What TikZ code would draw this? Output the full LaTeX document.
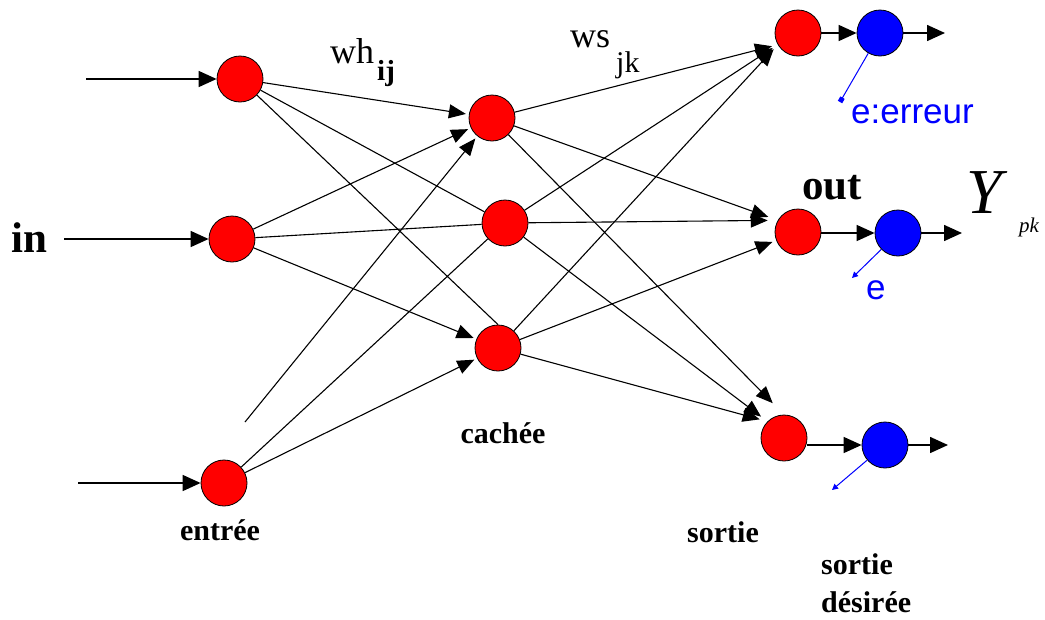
\documentclass[tikz,border=0pt]{standalone}
\usepackage{fontspec}
\setmainfont{Liberation Serif}
\newfontfamily\arialfont{Liberation Sans}
\usetikzlibrary{arrows.meta}
\begin{document}
\begin{tikzpicture}[x=1pt,y=-1pt,
  neuron/.style={circle,draw=black,line width=0.8pt,minimum size=46pt,inner sep=0pt},
  rn/.style={neuron,fill=red},
  bn/.style={neuron,fill=blue},
  link/.style={line width=1.1pt},
  arr/.style={link,-{Triangle[length=17pt,width=14pt]}},
  io/.style={line width=1.6pt,-{Triangle[length=18pt,width=16pt]}},
  err/.style={draw=blue,line width=1pt},
  txt/.style={inner sep=0pt},
  lab/.style={txt,font=\fontsize{30}{34}\selectfont\bfseries},
  big/.style={txt,font=\fontsize{43}{50}\selectfont\bfseries},
  wt/.style={txt,font=\fontsize{36}{40}\selectfont},
  wsub/.style={txt,font=\fontsize{30}{34}\selectfont},
  wsubb/.style={txt,font=\fontsize{29}{34}\selectfont\bfseries},
  bluetxt/.style={txt,text=blue,font=\arialfont\fontsize{35}{40}\selectfont},
]
\useasboundingbox (0,0) rectangle (1045,619);

% neurons
\node[rn] (I1) at (240,79) {};
\node[rn] (I2) at (232,239) {};
\node[rn] (I3) at (224,483) {};
\node[rn] (H1) at (492,118) {};
\node[rn] (H2) at (505,223) {};
\node[rn] (H3) at (498,348) {};
\node[rn] (O1) at (798,33) {};
\node[rn] (O2) at (798,232) {};
\node[rn] (O3) at (784,438) {};
\node[bn] (B1) at (880,33) {};
\node[bn] (B2) at (898,233) {};
\node[bn] (B3) at (885,445) {};

% free ends
\coordinate (in1) at (86,79);
\coordinate (in2) at (64,239);
\coordinate (in3) at (78,483);
\coordinate (out1) at (945,33);
\coordinate (out2) at (962,233);
\coordinate (out3) at (948,445);
\coordinate (s) at (245,422);
\coordinate (e1) at (840,102);
\coordinate (e2) at (852,278);
\coordinate (e3) at (832,490);

% inputs and outputs
\draw[io] (in1) -- (I1);
\draw[io] (in2) -- (I2);
\draw[io] (in3) -- (I3);
\draw[io] (O1) -- (B1);
\draw[io] (O2.east |- B2.west) -- (B2.west);
\draw[io] (O3.east |- B3.west) -- (B3.west);
\draw[io] (B1) -- (out1);
\draw[io] (B2) -- (out2);
\draw[io] (B3) -- (out3);

% input -> hidden
\draw[link] (I1) -- (H2);
\draw[link] (I1) -- (H3.north);
\draw[link] (I2) -- (H2);
\draw[link] (I3) -- (H2);
\draw[arr,shorten >=3pt] (I1) -- (H1);
\draw[arr,shorten >=3pt] (I2) -- (H1);
\draw[arr,shorten >=3pt] (s) -- (H1);
\draw[arr,shorten >=3pt] (I2) -- (H3);
\draw[arr,shorten >=3pt] (I3) -- (H3);

% hidden -> output
\draw[arr,shorten >=6pt] (H1) -- (O1.210);
\draw[arr,shorten >=6pt] (H2) -- (O1.210);
\draw[arr,shorten >=6pt] (H3) -- (O1.210);
\draw[arr,shorten >=10pt] (H1) -- (O2.150);
\draw[arr,shorten >=10pt] (H2) -- (O2.150);
\draw[arr,shorten >=4pt] (H3) -- (O2);
\draw[arr,shorten >=16pt] (H1) -- (O3.north);
\draw[arr,shorten >=8pt] (H2) -- (O3.135);
\draw[arr,shorten >=8pt] (H3) -- (O3.135);

% error lines
\draw[err,-{Square[length=5pt,width=5pt]}] (B1) -- (e1);
\draw[err,-{Triangle[length=6pt,width=6pt]}] (B2) -- (e2);
\draw[err,-{Triangle[length=6pt,width=6pt]}] (B3) -- (e3);

% texts
\node[big,anchor=base west] (tin) at (11,252) {in};
\node[big,anchor=base] (tout) at (832,199) {out};
\node[wt,anchor=base west] (twh) at (330,63) {wh};
\node[wsubb,anchor=base west] (tij) at (377,80) {ij};
\node[wt,anchor=base west] (tws) at (570,47) {ws};
\node[wsub,anchor=base west] (tjk) at (616,72) {jk};
\node[txt,anchor=base west,font=\fontsize{64}{70}\selectfont\itshape] (tY) at (966,213) {Y};
\node[txt,anchor=base west,font=\fontsize{21}{24}\selectfont\itshape] (tpk) at (1019,232) {pk};
\node[bluetxt,anchor=base west] (terr) at (851,123) {e:erreur};
\node[bluetxt,anchor=base west] (te) at (866,299) {e};
\node[lab,anchor=base] (tent) at (220,540) {entrée};
\node[lab,anchor=base] (tcac) at (503,443) {cachée};
\node[lab,anchor=base] (tsor) at (723,542) {sortie};
\node[lab,anchor=base west] (tsd1) at (821,574) {sortie};
\node[lab,anchor=base west] (tsd2) at (821,612) {désirée};
\end{tikzpicture}
\end{document}
